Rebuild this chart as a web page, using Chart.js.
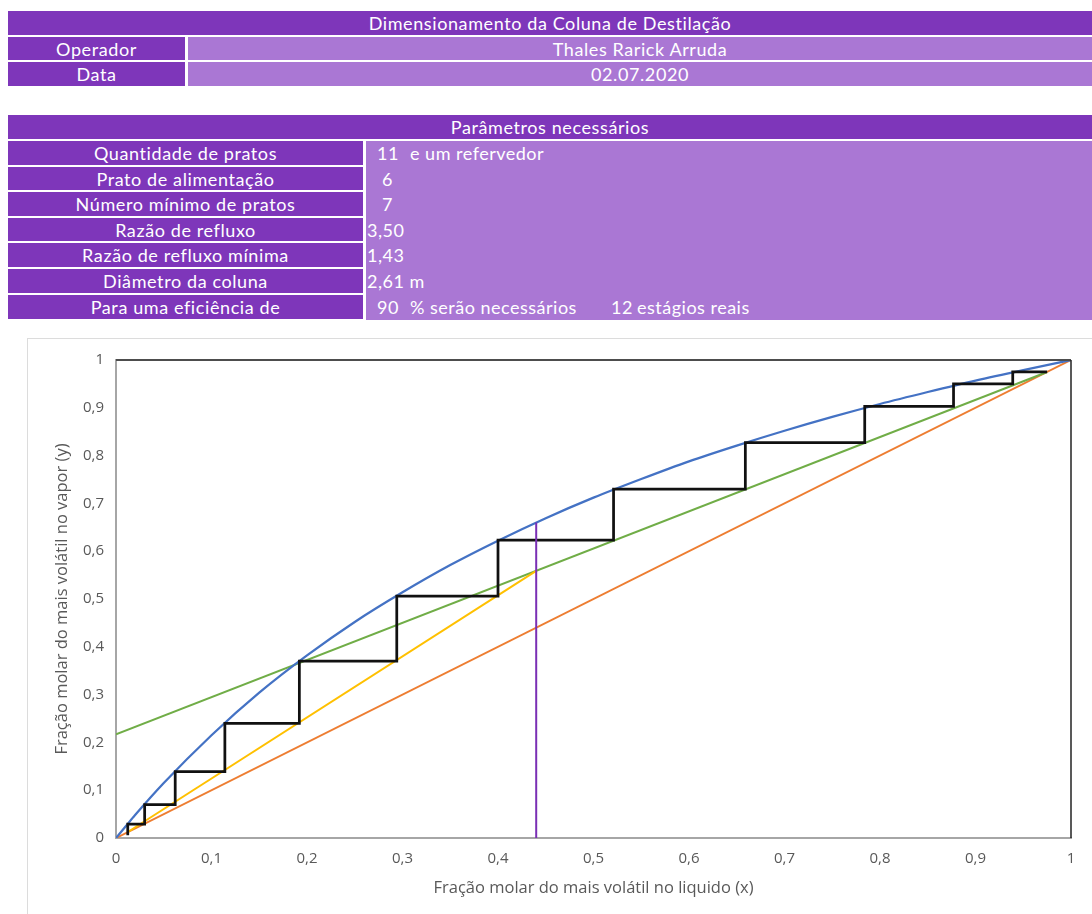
<!DOCTYPE html>
<html lang="pt-BR">
<head>
<meta charset="utf-8">
<title>Dimensionamento da Coluna de Destilação</title>
<script src="https://cdn.jsdelivr.net/npm/chart.js@4.4.1/dist/chart.umd.min.js"></script>
<style>
  html, body { margin: 0; padding: 0; background: #ffffff; }
  body { width: 1092px; height: 914px; overflow: hidden; position: relative; font-family: Lato, "Open Sans", sans-serif; }
  .cell { position: absolute; color: #ffffff; font-size: 18px; letter-spacing: 0.6px; line-height: 1; display: flex; align-items: center; white-space: nowrap; box-sizing: border-box; }
  .center { justify-content: center; }
  .dark { background: #7e36ba; }
  .light { background: #aa77d4; }
  .val { position: absolute; color: #ffffff; font-size: 18px; letter-spacing: 0.5px; white-space: nowrap; transform: translateY(-50%); line-height: 1; }
  #frame { position: absolute; left: 27px; top: 338px; width: 1070px; height: 590px; border: 1px solid #dcdcdc; box-sizing: border-box; }
  #chart { position: absolute; left: 27px; top: 338px; }
</style>
</head>
<body>

<!-- Cabeçalho -->
<div class="cell dark center" style="left:8px;top:11px;width:1084px;height:24px;">Dimensionamento da Coluna de Destilação</div>
<div class="cell dark center" style="left:8px;top:37px;width:177px;height:23px;">Operador</div>
<div class="cell light center" style="left:188px;top:37px;width:904px;height:23px;">Thales Rarick Arruda</div>
<div class="cell dark center" style="left:8px;top:62px;width:177px;height:24px;">Data</div>
<div class="cell light center" style="left:188px;top:62px;width:904px;height:24px;">02.07.2020</div>

<!-- Parâmetros -->
<div class="cell dark center" style="left:8px;top:115px;width:1084px;height:24px;">Parâmetros necessários</div>
<div class="cell light" style="left:366px;top:141px;width:726px;height:179px;"></div>
<div class="cell dark center" style="left:8px;top:141px;width:355px;height:24px;">Quantidade de pratos</div>
<div class="cell dark center" style="left:8px;top:167px;width:355px;height:23px;">Prato de alimentação</div>
<div class="cell dark center" style="left:8px;top:192px;width:355px;height:24px;">Número mínimo de pratos</div>
<div class="cell dark center" style="left:8px;top:218px;width:355px;height:23px;">Razão de refluxo</div>
<div class="cell dark center" style="left:8px;top:243px;width:355px;height:24px;">Razão de refluxo mínima</div>
<div class="cell dark center" style="left:8px;top:269px;width:355px;height:24px;">Diâmetro da coluna</div>
<div class="cell dark center" style="left:8px;top:295px;width:355px;height:24px;">Para uma eficiência de</div>

<div class="val" style="left:377px;top:153px;">11</div>
<div class="val" style="left:410px;top:153px;">e um refervedor</div>
<div class="val" style="left:382px;top:179px;">6</div>
<div class="val" style="left:382px;top:204px;">7</div>
<div class="val" style="left:367px;top:230px;">3,50</div>
<div class="val" style="left:367px;top:255px;">1,43</div>
<div class="val" style="left:367px;top:281px;">2,61 m</div>
<div class="val" style="left:377px;top:307px;">90</div>
<div class="val" style="left:410px;top:307px;">% serão necessários</div>
<div class="val" style="left:611px;top:307px;">12</div>
<div class="val" style="left:637px;top:307px;">estágios reais</div>

<div id="frame"></div>
<canvas id="chart" width="1065" height="576"></canvas>

<script>
// Curva de equilíbrio (x, y)
const eqX = [0, 0.01, 0.02, 0.05, 0.10, 0.15, 0.20, 0.25, 0.30, 0.35, 0.40, 0.45, 0.50, 0.55, 0.60, 0.65, 0.70, 0.75, 0.80, 0.85, 0.90, 0.95, 1.00];
const eqY = [0, 0.024, 0.048, 0.115, 0.215, 0.304, 0.382, 0.452, 0.514, 0.571, 0.622, 0.669, 0.712, 0.751, 0.788, 0.821, 0.852, 0.881, 0.908, 0.933, 0.957, 0.979, 1.000];

// Diagonal y = x
const diagX = [0, 1];
const diagY = [0, 1];

// Reta de operação da seção de retificação
const rectX = [0, 0.975];
const rectY = [0.217, 0.975];

// Reta de operação da seção de esgotamento
const stripX = [0.012, 0.44];
const stripY = [0.012, 0.559];

// Linha q (alimentação como líquido saturado)
const feedX = [0.44, 0.44];
const feedY = [0, 0.660];

// Degraus de McCabe-Thiele
const stepX = [0.975, 0.939, 0.939, 0.877, 0.877, 0.784, 0.784, 0.659, 0.659, 0.521, 0.521, 0.400, 0.400, 0.294, 0.294, 0.192, 0.192, 0.114, 0.114, 0.062, 0.062, 0.030, 0.030, 0.0123, 0.0123];
const stepY = [0.975, 0.975, 0.950, 0.950, 0.903, 0.903, 0.827, 0.827, 0.730, 0.730, 0.623, 0.623, 0.506, 0.506, 0.370, 0.370, 0.240, 0.240, 0.139, 0.139, 0.070, 0.070, 0.029, 0.029, 0.006];

// Rótulos dos eixos
const tickLabels = ['0', '0,1', '0,2', '0,3', '0,4', '0,5', '0,6', '0,7', '0,8', '0,9', '1'];
const xTitle = 'Fração molar do mais volátil no liquido (x)';
const yTitle = 'Fração molar do mais volátil no vapor (y)';

const pts = (xs, ys) => xs.map((x, i) => ({ x: x, y: ys[i] }));

function lineSet(xs, ys, color, width, smooth) {
  return {
    data: pts(xs, ys),
    showLine: true,
    borderColor: color,
    backgroundColor: color,
    borderWidth: width,
    pointRadius: 0,
    pointHoverRadius: 0,
    fill: false,
    cubicInterpolationMode: smooth ? 'monotone' : 'default',
    tension: 0
  };
}

// Moldura da área de plotagem (topo e lateral direita)
const plotFrame = {
  id: 'plotFrame',
  afterDatasetsDraw(chart) {
    const { ctx, chartArea: a } = chart;
    ctx.save();
    ctx.strokeStyle = '#4d4d4d';
    ctx.lineWidth = 2;
    ctx.beginPath();
    ctx.moveTo(a.left, a.top);
    ctx.lineTo(a.right, a.top);
    ctx.stroke();
    ctx.strokeStyle = '#222222';
    ctx.lineWidth = 1.5;
    ctx.beginPath();
    ctx.moveTo(a.right, a.top);
    ctx.lineTo(a.right, a.bottom);
    ctx.stroke();
    ctx.restore();
  }
};

const tickFont = { family: '"Open Sans", Lato, sans-serif', size: 15 };
const titleFont = { family: '"Open Sans", Lato, sans-serif', size: 16.5 };

new Chart(document.getElementById('chart'), {
  type: 'scatter',
  data: {
    datasets: [
      lineSet(feedX, feedY, '#7a2fb4', 2, false),
      lineSet(stepX, stepY, '#111111', 2.75, false),
      lineSet(eqX, eqY, '#4472c4', 2.25, true),
      lineSet(stripX, stripY, '#ffc000', 2, false),
      lineSet(rectX, rectY, '#70ad47', 2, false),
      lineSet(diagX, diagY, '#ed7d31', 2, false)
    ]
  },
  options: {
    responsive: false,
    animation: false,
    events: [],
    layout: { padding: { left: 0, right: 21, top: 22, bottom: 0 } },
    plugins: { legend: { display: false }, tooltip: { enabled: false } },
    scales: {
      x: {
        type: 'linear',
        min: 0, max: 1,
        afterFit(s) { s.height = 76; },
        afterBuildTicks(s) { s.ticks = tickLabels.map((_, i) => ({ value: i / 10 })); },
        grid: { display: false, drawTicks: false },
        border: { display: true, color: '#a6a6a6', width: 2 },
        ticks: { color: '#595959', font: tickFont, padding: 12, maxRotation: 0,
                 callback: (v, i) => tickLabels[i] },
        title: { display: true, text: xTitle, color: '#595959', font: titleFont, padding: { top: 0, bottom: 16 } }
      },
      y: {
        type: 'linear',
        min: 0, max: 1,
        afterFit(s) { s.width = 89; },
        afterBuildTicks(s) { s.ticks = tickLabels.map((_, i) => ({ value: i / 10 })); },
        grid: { display: false, drawTicks: false },
        border: { display: true, color: '#a6a6a6', width: 2 },
        ticks: { color: '#595959', font: tickFont, padding: 12,
                 callback: (v, i) => tickLabels[i] },
        title: { display: true, text: yTitle, color: '#595959', font: titleFont, padding: { top: 25, bottom: 0 } }
      }
    }
  },
  plugins: [plotFrame]
});
</script>
</body>
</html>
